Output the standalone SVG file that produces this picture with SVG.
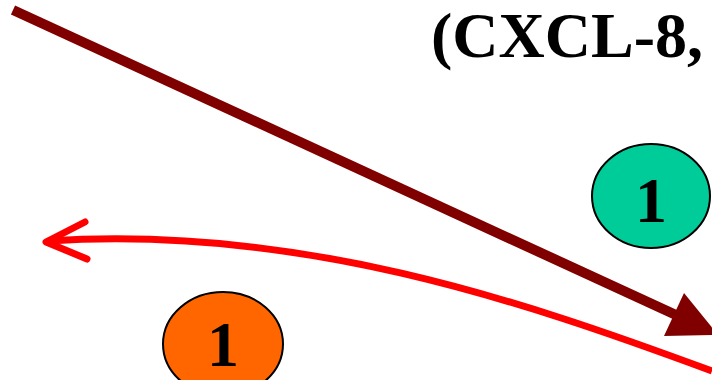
<svg xmlns="http://www.w3.org/2000/svg" width="712" height="380" viewBox="0 0 712 380">
<style>
.lbl{font-family:"Liberation Serif","Times New Roman",serif;font-weight:bold;fill:#000}
.node{stroke:#000;stroke-width:2}
</style>
<rect width="712" height="380" fill="#fff"/>
<g id="connectors">
  <path id="dark-arrow" d="M13,10 L676,315" stroke="#800000" stroke-width="10" fill="none"/>
  <polygon points="684,293 664,336 718,335" fill="#800000"/>
  <path id="red-arrow" d="M712,371 C520,300 300,225 48,241" stroke="#ff0000" stroke-width="7" fill="none"/>
  <path d="M85,222 L46,242 L87,259" stroke="#ff0000" stroke-width="7" fill="none" stroke-linecap="round" stroke-linejoin="round"/>
</g>
<g id="title"><text class="lbl" x="431" y="57" font-size="64">(CXCL-8,</text></g>
<g id="node-green">
  <ellipse class="node" cx="651" cy="196" rx="59" ry="52" fill="#00cc99"/>
  <text class="lbl" x="651" y="222" font-size="64" text-anchor="middle">1</text>
</g>
<g id="node-orange">
  <ellipse class="node" cx="223" cy="344" rx="60" ry="52" fill="#ff6600"/>
  <text class="lbl" x="223" y="366" font-size="64" text-anchor="middle">1</text>
</g>
</svg>
